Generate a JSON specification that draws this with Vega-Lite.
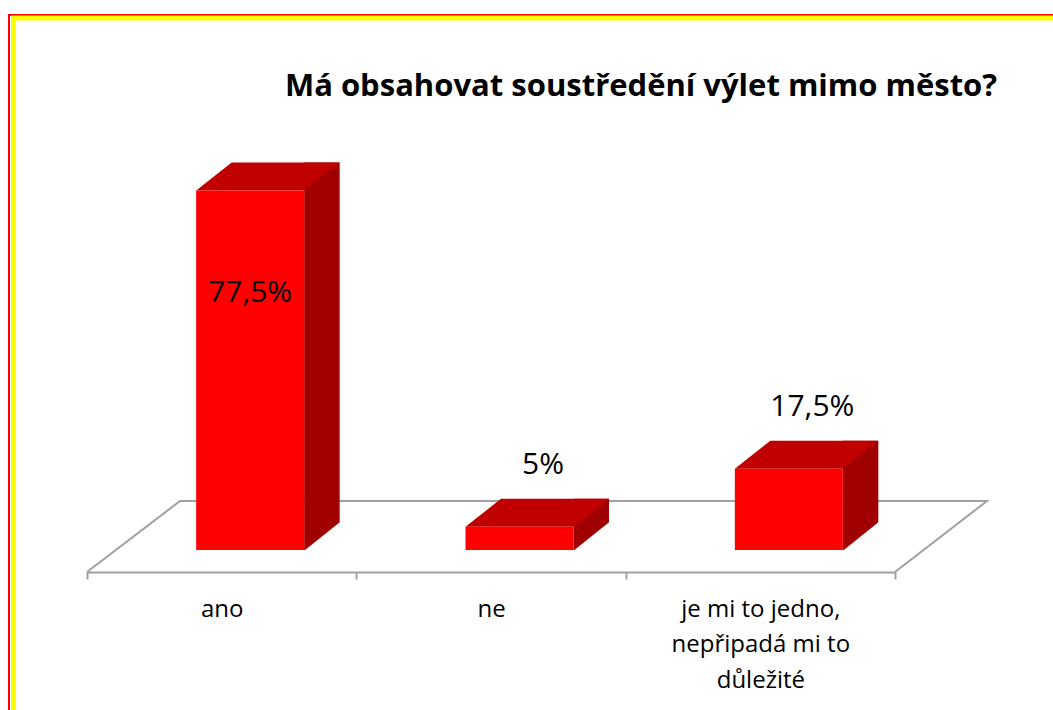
{
  "$schema": "https://vega.github.io/schema/vega-lite/v6.json",
  "width": 808,
  "height": 464,
  "autosize": "none",
  "padding": {"left": 87, "top": 108, "right": 158, "bottom": 138},
  "background": "white",
  "config": {
    "view": {"stroke": null},
    "font": "Open Sans",
    "locale": {"number": {"decimal": ",", "thousands": " ", "grouping": [3], "currency": ["", " Kč"]}}
  },
  "title": {
    "text": "Má obsahovat soustředění výlet mimo město?",
    "frame": "group",
    "anchor": "middle",
    "dx": 150,
    "offset": -119,
    "baseline": "alphabetic",
    "font": "Open Sans",
    "fontSize": 31,
    "fontWeight": "bold",
    "color": "#000000"
  },
  "data": {
    "values": [
      {"odpoved": "ano", "podil": 0.775},
      {"odpoved": "ne", "podil": 0.05},
      {"odpoved": "je mi to jedno, nepřipadá mi to důležité", "podil": 0.175}
    ]
  },
  "layer": [
    {
      "data": {"values": [{"ramecek": 1}]},
      "mark": {"type": "point", "filled": false, "opacity": 1, "stroke": "#ff0000", "strokeWidth": 2, "strokeJoin": "miter", "size": 4, "shape": "M -482 148 L -482 -557 L 569 -557"},
      "encoding": {
        "x": {"datum": "ne", "type": "nominal"},
        "y": {"datum": 0, "type": "quantitative", "axis": null}
      }
    },
    {
      "data": {"values": [{"ramecek": 2}]},
      "mark": {"type": "point", "filled": false, "opacity": 1, "stroke": "#ffff00", "strokeWidth": 5, "strokeJoin": "miter", "size": 4, "shape": "M -477.5 148 L -477.5 -554 L 569 -554"},
      "encoding": {
        "x": {"datum": "ne", "type": "nominal"},
        "y": {"datum": 0, "type": "quantitative", "axis": null}
      }
    },
    {
      "data": {"values": [{"podlaha": 1}]},
      "mark": {"type": "point", "filled": false, "opacity": 1, "stroke": "#a0a0a0", "strokeWidth": 2, "size": 4, "shape": "M -404 0 L -311 -71 L 496 -71 L 404 0"},
      "encoding": {
        "x": {"datum": "ne", "type": "nominal"},
        "y": {"datum": 0, "type": "quantitative", "axis": null}
      }
    },
    {
      "mark": {"type": "bar", "color": "#a00000", "width": 35.5, "xOffset": 100.25, "yOffset": -50, "y2Offset": -22},
      "encoding": {
        "x": {"field": "odpoved", "type": "nominal", "sort": null},
        "y": {"field": "podil", "type": "quantitative", "axis": null},
        "y2": {"datum": 0}
      }
    },
    {
      "mark": {"type": "point", "filled": true, "opacity": 1, "color": "#ffffff", "size": 4, "shape": "M 54.3 0.6 L 90.5 -28.4 L 90.5 0.6 Z", "xOffset": 28.5, "yOffset": -22},
      "encoding": {
        "x": {"field": "odpoved", "type": "nominal", "sort": null},
        "y": {"datum": 0, "type": "quantitative", "axis": null}
      }
    },
    {
      "mark": {"type": "point", "filled": true, "opacity": 1, "color": "#c00000", "size": 4, "shape": "M -54 0 L 54 0 L 89.5 -28 L -18.5 -28 Z", "xOffset": 28.5, "yOffset": -22},
      "encoding": {
        "x": {"field": "odpoved", "type": "nominal", "sort": null},
        "y": {"field": "podil", "type": "quantitative", "axis": null}
      }
    },
    {
      "mark": {"type": "bar", "color": "#ff0000", "width": 108, "xOffset": 28.5, "yOffset": -22, "y2Offset": -22},
      "encoding": {
        "x": {
          "field": "odpoved",
          "type": "nominal",
          "sort": null,
          "scale": {"domain": ["ano", "ne", "je mi to jedno, nepřipadá mi to důležité"], "paddingInner": 0, "paddingOuter": 0},
          "axis": {
            "title": null,
            "orient": "bottom",
            "tickBand": "extent",
            "grid": false,
            "domainColor": "#a0a0a0",
            "domainWidth": 2,
            "tickColor": "#a0a0a0",
            "tickWidth": 2,
            "tickSize": 7,
            "labelAngle": 0,
            "labelAlign": "center",
            "labelFont": "Open Sans",
            "labelFontSize": 24,
            "labelColor": "#000000",
            "labelPadding": 30,
            "labelLineHeight": 35.5,
            "labelLimit": 0,
            "labelExpr": "datum.label == 'je mi to jedno, nepřipadá mi to důležité' ? ['je mi to jedno,', 'nepřipadá mi to', 'důležité'] : datum.label"
          }
        },
        "y": {"field": "podil", "type": "quantitative", "scale": {"domain": [0, 1], "nice": false, "zero": true}, "axis": null},
        "y2": {"datum": 0}
      }
    },
    {
      "transform": [{"filter": "datum.podil > 0.5"}],
      "mark": {"type": "text", "font": "Open Sans", "fontSize": 30, "color": "#000000", "align": "center", "baseline": "alphabetic", "dx": 28.5, "dy": 90},
      "encoding": {
        "x": {"field": "odpoved", "type": "nominal", "sort": null},
        "y": {"field": "podil", "type": "quantitative", "axis": null},
        "text": {"field": "podil", "type": "quantitative", "format": ".1~%"}
      }
    },
    {
      "transform": [{"filter": "datum.podil <= 0.5"}],
      "mark": {"type": "text", "font": "Open Sans", "fontSize": 30, "color": "#000000", "align": "center", "baseline": "alphabetic", "dx": 52, "dy": -75},
      "encoding": {
        "x": {"field": "odpoved", "type": "nominal", "sort": null},
        "y": {"field": "podil", "type": "quantitative", "axis": null},
        "text": {"field": "podil", "type": "quantitative", "format": ".1~%"}
      }
    }
  ]
}
